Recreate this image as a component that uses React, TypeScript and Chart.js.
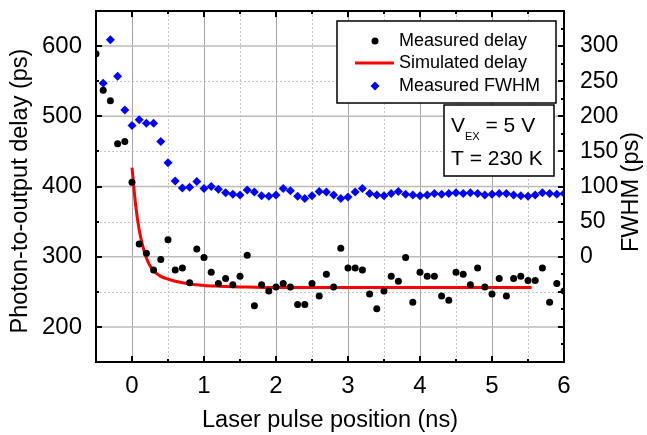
import React, { useEffect, useRef } from 'react';
import { Chart, registerables } from 'chart.js';

Chart.register(...registerables);

const FONT = '"Liberation Sans", Arial, Helvetica, sans-serif';

// Measured photon-to-output delay (ps) vs laser pulse position (ns)
const delayX = [
  -0.5, -0.4, -0.3, -0.2, -0.1, 0.0, 0.1, 0.2, 0.3, 0.4, 0.5, 0.6, 0.7, 0.8, 0.9,
  1.0, 1.1, 1.2, 1.3, 1.4, 1.5, 1.6, 1.7, 1.8, 1.9, 2.0, 2.1, 2.2, 2.3, 2.4, 2.5,
  2.6, 2.7, 2.8, 2.9, 3.0, 3.1, 3.2, 3.3, 3.4, 3.5, 3.6, 3.7, 3.8, 3.9, 4.0, 4.1,
  4.2, 4.3, 4.4, 4.5, 4.6, 4.7, 4.8, 4.9, 5.0, 5.1, 5.2, 5.3, 5.4, 5.5, 5.6, 5.7,
  5.8, 5.9, 6.0,
];
const delayPs = [
  589, 537, 522, 461, 464, 406, 318, 305, 281, 296, 324, 281, 284, 263, 311,
  299, 278, 262, 269, 260, 272, 302, 230, 260, 251, 257, 262, 257, 232, 232, 262,
  244, 275, 257, 312, 284, 284, 281, 247, 226, 251, 272, 265, 299, 235, 278, 272,
  272, 244, 238, 278, 275, 260, 284, 257, 247, 269, 244, 269, 272, 266, 266, 284,
  235, 262, 251,
];

// Measured FWHM (ps), right axis
const fwhmX = [
  -0.4, -0.3, -0.2, -0.1, 0.0, 0.1, 0.2, 0.3, 0.4, 0.5, 0.6, 0.7, 0.8, 0.9,
  1.0, 1.1, 1.2, 1.3, 1.4, 1.5, 1.6, 1.7, 1.8, 1.9, 2.0, 2.1, 2.2, 2.3, 2.4, 2.5,
  2.6, 2.7, 2.8, 2.9, 3.0, 3.1, 3.2, 3.3, 3.4, 3.5, 3.6, 3.7, 3.8, 3.9, 4.0, 4.1,
  4.2, 4.3, 4.4, 4.5, 4.6, 4.7, 4.8, 4.9, 5.0, 5.1, 5.2, 5.3, 5.4, 5.5, 5.6, 5.7,
  5.8, 5.9, 6.0,
];
const fwhmPs = [
  247, 309, 257, 209, 187, 195, 190, 190, 164, 134, 108, 98, 99, 107,
  97, 100, 96, 91, 89, 88, 95, 92, 87, 86, 88, 97, 94, 86, 83, 87,
  93, 92, 88, 83, 85, 92, 97, 90, 88, 87, 90, 93, 89, 88, 87, 88,
  90, 89, 90, 91, 90, 91, 90, 88, 89, 90, 90, 88, 87, 86, 88, 91,
  90, 89, 90,
];

// Simulated delay (ps)
const simX = [0, 0.05, 0.1, 0.15, 0.2, 0.25, 0.3, 0.4, 0.5, 0.6, 0.8, 1.0, 1.2, 1.5, 2.0, 3.0, 4.0, 5.0, 5.55];
const simPs = [427, 374, 338, 315, 298, 287, 280, 272, 268, 265, 261, 259, 258, 257, 256, 256, 256, 256, 256];

// Axis ticks and grid
const xTicks = [0, 1, 2, 3, 4, 5, 6];
const xMinorTicks = [0.5, 1.5, 2.5, 3.5, 4.5, 5.5];
const leftTicks = [200, 300, 400, 500, 600];
const leftMinorTicks = [250, 350, 450, 550];
const rightTicks = [-150, -100, -50, 0, 50, 100, 150, 200, 250, 300];
const rightMinorTicks = [-125, -75, -25, 25, 75, 125, 175, 225, 275, 325];
const rightLabels = [0, 50, 100, 150, 200, 250, 300];

const xTitle = 'Laser pulse position (ns)';
const leftTitle = 'Photon-to-output delay (ps)';
const rightTitle = 'FWHM (ps)';
const legendLabels = ['Measured delay', 'Simulated delay', 'Measured FWHM'];

const noPad = (s: any) => {
  s.paddingTop = 0;
  s.paddingBottom = 0;
  s.paddingLeft = 0;
  s.paddingRight = 0;
};

const decorPlugin = {
  id: 'decor',
  beforeDatasetsDraw(chart: any) {
    const { ctx, chartArea: a, scales } = chart;
    const xs = scales.x;
    const ys = scales.y;
    ctx.save();
    ctx.lineWidth = 1;
    ctx.strokeStyle = '#c4c4c4';
    ctx.setLineDash([2, 2]);
    for (const v of xMinorTicks) {
      const p = Math.round(xs.getPixelForValue(v)) + 0.5;
      ctx.beginPath(); ctx.moveTo(p, a.top); ctx.lineTo(p, a.bottom); ctx.stroke();
    }
    for (const v of leftMinorTicks) {
      const p = Math.round(ys.getPixelForValue(v)) + 0.5;
      ctx.beginPath(); ctx.moveTo(a.left, p); ctx.lineTo(a.right, p); ctx.stroke();
    }
    ctx.setLineDash([]);
    ctx.strokeStyle = '#a8a8a8';
    for (const v of xTicks) {
      const p = Math.round(xs.getPixelForValue(v)) + 0.5;
      ctx.beginPath(); ctx.moveTo(p, a.top); ctx.lineTo(p, a.bottom); ctx.stroke();
    }
    ctx.strokeStyle = '#bcbcbc';
    ctx.lineWidth = 1.5;
    for (const v of leftTicks) {
      const p = ys.getPixelForValue(v);
      ctx.beginPath(); ctx.moveTo(a.left, p); ctx.lineTo(a.right, p); ctx.stroke();
    }
    ctx.restore();
  },
  afterDatasetsDraw(chart: any) {
    const { ctx, chartArea: a, scales } = chart;
    const xs = scales.x;
    const ys = scales.y;
    const y2 = scales.y2;
    ctx.save();
    ctx.strokeStyle = '#000';
    ctx.lineWidth = 2;
    ctx.strokeRect(a.left, a.top, a.right - a.left, a.bottom - a.top);
    const tick = (x1: number, y1: number, x2: number, y2p: number) => {
      ctx.beginPath(); ctx.moveTo(x1, y1); ctx.lineTo(x2, y2p); ctx.stroke();
    };
    const MAJ = 6;
    const MIN = 3;
    for (const v of xTicks) {
      const p = Math.round(xs.getPixelForValue(v));
      tick(p, a.bottom, p, a.bottom - MAJ);
      tick(p, a.top, p, a.top + MAJ);
    }
    for (const v of xMinorTicks) {
      const p = Math.round(xs.getPixelForValue(v));
      tick(p, a.bottom, p, a.bottom - MIN);
      tick(p, a.top, p, a.top + MIN);
    }
    for (const v of leftTicks) {
      const p = Math.round(ys.getPixelForValue(v));
      tick(a.left, p, a.left + MAJ, p);
    }
    for (const v of leftMinorTicks) {
      const p = Math.round(ys.getPixelForValue(v));
      tick(a.left, p, a.left + MIN, p);
    }
    for (const v of rightTicks) {
      const p = Math.round(y2.getPixelForValue(v));
      tick(a.right, p, a.right - MAJ, p);
    }
    for (const v of rightMinorTicks) {
      const p = Math.round(y2.getPixelForValue(v));
      tick(a.right, p, a.right - MIN, p);
    }

    // Legend box
    const ds = chart.data.datasets;
    ctx.lineWidth = 1.5;
    ctx.fillStyle = '#fff';
    ctx.fillRect(337, 21, 219, 82);
    ctx.strokeStyle = '#000';
    ctx.strokeRect(337, 21, 219, 82);
    ctx.font = `18px ${FONT}`;
    ctx.textBaseline = 'middle';
    ctx.textAlign = 'left';
    const rows = [41, 63, 86];
    ctx.fillStyle = ds[0].pointBackgroundColor;
    ctx.beginPath(); ctx.arc(375, rows[0], ds[0].pointRadius, 0, Math.PI * 2); ctx.fill();
    ctx.strokeStyle = ds[1].borderColor;
    ctx.lineWidth = ds[1].borderWidth;
    ctx.beginPath(); ctx.moveTo(355, rows[1]); ctx.lineTo(394, rows[1]); ctx.stroke();
    ctx.fillStyle = ds[2].pointBackgroundColor;
    const r = ds[2].pointRadius;
    ctx.beginPath();
    ctx.moveTo(375, rows[2] - r); ctx.lineTo(375 + r, rows[2]); ctx.lineTo(375, rows[2] + r); ctx.lineTo(375 - r, rows[2]);
    ctx.closePath(); ctx.fill();
    ctx.fillStyle = '#000';
    legendLabels.forEach((t, i) => ctx.fillText(t, 399, rows[i]));

    // Annotation box
    ctx.fillStyle = '#fff';
    ctx.fillRect(444, 105, 110, 71);
    ctx.strokeStyle = '#000';
    ctx.lineWidth = 1.5;
    ctx.strokeRect(444, 105, 110, 71);
    ctx.fillStyle = '#000';
    ctx.textBaseline = 'alphabetic';
    ctx.font = `21px ${FONT}`;
    ctx.fillText('V', 451, 132);
    let x = 451 + ctx.measureText('V').width;
    ctx.font = `11px ${FONT}`;
    ctx.fillText('EX', x, 139.5);
    x += ctx.measureText('EX').width;
    ctx.font = `21px ${FONT}`;
    ctx.fillText(' = 5 V', x, 132);
    ctx.fillText('T = 230 K', 451, 165);
    ctx.restore();
  },
  afterDraw(chart: any) {
    const { ctx, chartArea: a } = chart;
    ctx.save();
    ctx.fillStyle = '#000';
    ctx.textAlign = 'center';
    ctx.textBaseline = 'middle';
    ctx.font = `23.5px ${FONT}`;
    ctx.fillText(xTitle, (a.left + a.right) / 2, 421);
    ctx.save();
    ctx.translate(21, 191);
    ctx.rotate(-Math.PI / 2);
    ctx.fillText(leftTitle, 0, 0);
    ctx.restore();
    ctx.save();
    ctx.translate(632, 192);
    ctx.rotate(-Math.PI / 2);
    ctx.fillText(rightTitle, 0, 0);
    ctx.restore();
    ctx.restore();
  },
};

export default function App() {
  const ref = useRef<HTMLCanvasElement | null>(null);
  useEffect(() => {
    if (!ref.current) return;
    const chart = new Chart(ref.current, {
      type: 'scatter',
      data: {
        datasets: [
          {
            label: legendLabels[0],
            data: delayX.map((x, i) => ({ x, y: delayPs[i] })),
            pointBackgroundColor: '#000000',
            backgroundColor: '#000000',
            pointRadius: 3.5,
            pointBorderWidth: 0,
            borderWidth: 0,
            yAxisID: 'y',
          },
          {
            label: legendLabels[1],
            data: simX.map((x, i) => ({ x, y: simPs[i] })),
            showLine: true,
            borderColor: '#ff0000',
            borderWidth: 3,
            pointRadius: 0,
            cubicInterpolationMode: 'monotone',
            yAxisID: 'y',
          },
          {
            label: legendLabels[2],
            data: fwhmX.map((x, i) => ({ x, y: fwhmPs[i] })),
            pointStyle: 'rectRot',
            pointBackgroundColor: '#0000ff',
            backgroundColor: '#0000ff',
            pointRadius: 4.5,
            pointBorderWidth: 0,
            borderWidth: 0,
            yAxisID: 'y2',
          },
        ] as any,
      },
      options: {
        animation: false,
        responsive: false,
        layout: { padding: { top: 11, left: 0, right: 0, bottom: 0 } },
        plugins: { legend: { display: false }, tooltip: { enabled: false } },
        scales: {
          x: {
            type: 'linear',
            min: -0.5,
            max: 6,
            grid: { display: false },
            border: { display: false },
            ticks: { font: { family: FONT, size: 24 }, color: '#000', padding: 2, autoSkip: false, maxRotation: 0 },
            afterBuildTicks: (s: any) => { s.ticks = xTicks.map((v) => ({ value: v })); },
            afterFit: (s: any) => { s.height = 73; noPad(s); },
          },
          y: {
            type: 'linear',
            position: 'left',
            min: 150,
            max: 650,
            grid: { display: false },
            border: { display: false },
            ticks: { font: { family: FONT, size: 24 }, color: '#000', padding: 6, autoSkip: false },
            afterBuildTicks: (s: any) => { s.ticks = leftTicks.map((v) => ({ value: v })); },
            afterFit: (s: any) => { s.width = 96; noPad(s); },
          },
          y2: {
            type: 'linear',
            position: 'right',
            min: -150,
            max: 350,
            grid: { display: false },
            border: { display: false },
            ticks: { font: { family: FONT, size: 23 }, color: '#000', padding: 8, autoSkip: false },
            afterBuildTicks: (s: any) => { s.ticks = rightLabels.map((v) => ({ value: v })); },
            afterFit: (s: any) => { s.width = 83; noPad(s); },
          },
        },
      } as any,
      plugins: [decorPlugin],
    });
    return () => chart.destroy();
  }, []);
  return (
    <div style={{ position: 'fixed', left: 0, top: 0, width: 647, height: 435, background: '#fff' }}>
      <canvas ref={ref} width={647} height={435} style={{ display: 'block' }} />
    </div>
  );
}
